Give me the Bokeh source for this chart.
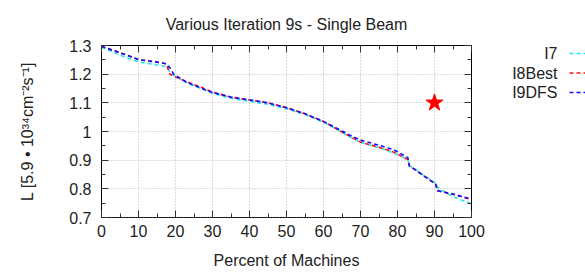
from bokeh.plotting import figure
from bokeh.layouts import row
from bokeh.models import (LinearAxis, SingleIntervalTicker, NumeralTickFormatter,
                          Range1d, ColumnDataSource, CustomJSTickFormatter)
from bokeh.core.properties import value
from bokeh.embed import file_html
from bokeh.resources import INLINE

# ---- data ----
x_pct = [0, 5, 10, 15, 17.5, 18.5, 19.5, 23, 27, 30, 35, 40, 45, 50, 55, 60, 65, 67, 70, 75,
         79, 82.8, 83.2, 85, 87, 90.3, 90.8, 95, 100]
i7 = [1.294, 1.266, 1.243, 1.232, 1.226, 1.208, 1.196, 1.170, 1.149, 1.133, 1.116, 1.105, 1.095,
      1.079, 1.059, 1.033, 0.997, 0.982, 0.962, 0.944, 0.925, 0.903, 0.880, 0.866, 0.848, 0.820,
      0.805, 0.772, 0.748]
i8best = [1.297, 1.275, 1.251, 1.242, 1.236, 1.200, 1.193, 1.174, 1.154, 1.137, 1.120, 1.110, 1.100,
          1.083, 1.062, 1.035, 0.998, 0.984, 0.963, 0.945, 0.928, 0.902, 0.880, 0.865, 0.846, 0.817,
          0.794, 0.781, 0.762]
i9dfs = [1.297, 1.275, 1.251, 1.242, 1.236, 1.222, 1.200, 1.172, 1.151, 1.136, 1.120, 1.110, 1.100,
         1.083, 1.062, 1.035, 1.002, 0.988, 0.970, 0.952, 0.936, 0.909, 0.880, 0.865, 0.846, 0.817,
         0.793, 0.782, 0.764]
series_names = ["I7", "I8Best", "I9DFS"]
series_values = [i7, i8best, i9dfs]
series_colors = ["#22e8e8", "#ff1010", "#1010ff"]
star_x = [90]
star_y = [1.1]

title = "Various Iteration 9s - Single Beam"
x_label = "Percent of Machines"
y_label = "L [5.9 \u2022 10\u00b3\u2074cm\u207b\u00b2s\u207b\u00b9]"

FONT = "Liberation Sans"
FS = "16px"
FRAME_H = 172

fig = figure(frame_width=370, frame_height=FRAME_H, min_border_left=101, min_border_right=20,
             min_border_top=0, min_border_bottom=4,
             x_range=Range1d(0, 100), y_range=Range1d(0.7, 1.3),
             output_backend="svg", toolbar_location=None, title=title, align="start")
fig.title.align = "center"
fig.title.text_font = FONT
fig.title.text_font_size = FS
fig.title.text_font_style = "normal"
fig.title.text_color = "#222222"
fig.title.standoff = 26

fig.outline_line_color = "black"
fig.outline_line_width = 1
fig.background_fill_color = "white"
fig.border_fill_color = "white"

xt = SingleIntervalTicker(interval=10, num_minor_ticks=2)
yt = SingleIntervalTicker(interval=0.1, num_minor_ticks=2)

def style_axis(ax, ticker, labels=True):
    ax.ticker = ticker
    ax.major_tick_in = 7
    ax.major_tick_out = 0
    ax.minor_tick_in = 4
    ax.minor_tick_out = 0
    ax.major_tick_line_color = "#333333"
    ax.minor_tick_line_color = "#333333"
    ax.axis_line_color = None
    ax.major_label_text_font = FONT
    ax.major_label_text_font_size = FS
    ax.major_label_text_color = "#222222"
    ax.axis_label_text_font = FONT
    ax.axis_label_text_font_size = FS
    ax.axis_label_text_font_style = "normal"
    ax.axis_label_text_color = "#222222"
    if not labels:
        ax.formatter = CustomJSTickFormatter(code="return ''")
        ax.major_label_standoff = 0
        ax.axis_label_standoff = 0

style_axis(fig.xaxis[0], xt)
style_axis(fig.yaxis[0], yt)
fig.xaxis[0].axis_label = x_label
fig.yaxis[0].axis_label = y_label
fig.xaxis[0].major_label_standoff = 7
fig.xaxis[0].axis_label_standoff = 12
fig.yaxis[0].major_label_standoff = 10
fig.yaxis[0].axis_label_standoff = 30
fig.yaxis[0].formatter = NumeralTickFormatter(format="0.[0]")

top_ax = LinearAxis()
style_axis(top_ax, SingleIntervalTicker(interval=10, num_minor_ticks=2), labels=False)
fig.add_layout(top_ax, "above")
right_ax = LinearAxis()
style_axis(right_ax, SingleIntervalTicker(interval=0.1, num_minor_ticks=2), labels=False)
fig.add_layout(right_ax, "right")

for g in (fig.xgrid[0], fig.ygrid[0]):
    g.grid_line_color = "#b8b8b8"
    g.grid_line_dash = "1 2"
    g.grid_line_width = 1
fig.xgrid[0].ticker = xt
fig.ygrid[0].ticker = yt

for name, vals, col in zip(series_names, series_values, series_colors):
    src = ColumnDataSource(dict(x=x_pct, y=vals))
    fig.line("x", "y", source=src, line_color=col, line_width=1.6, line_dash="4 3")

fig.scatter(star_x, star_y, marker="star", size=18, fill_color="red", line_color="red")

# ---- legend panel: separate figure whose frame is aligned with the main frame ----
LW = 94
leg = figure(frame_width=LW, frame_height=FRAME_H, x_range=Range1d(0, LW),
             y_range=Range1d(0, FRAME_H),
             x_axis_type=None, y_axis_type=None, min_border=0, title=None, align="start",
             output_backend="svg", toolbar_location=None)
leg.outline_line_color = None
leg.xgrid.visible = False
leg.ygrid.visible = False
leg.background_fill_color = "white"
leg.border_fill_color = "white"

# rows measured downward from the frame top
row_y = [FRAME_H - (8 + 19.5 * i) for i in range(len(series_names))]
leg_src = ColumnDataSource(dict(
    name=series_names, color=series_colors, y=row_y,
    tx=[66] * len(series_names), x0=[78] * len(series_names), x1=[LW + 20] * len(series_names)))
leg.text(x="tx", y="y", text="name", source=leg_src, text_align="right", text_baseline="middle",
         text_font=value(FONT), text_font_size=value(FS), text_color="#222222")
leg.segment(x0="x0", y0="y", x1="x1", y1="y", source=leg_src, line_color="color",
            line_width=1.6, line_dash="4 3")

layout = row(fig, leg, align="start")
open("out.html", "w").write(file_html(layout, INLINE))
